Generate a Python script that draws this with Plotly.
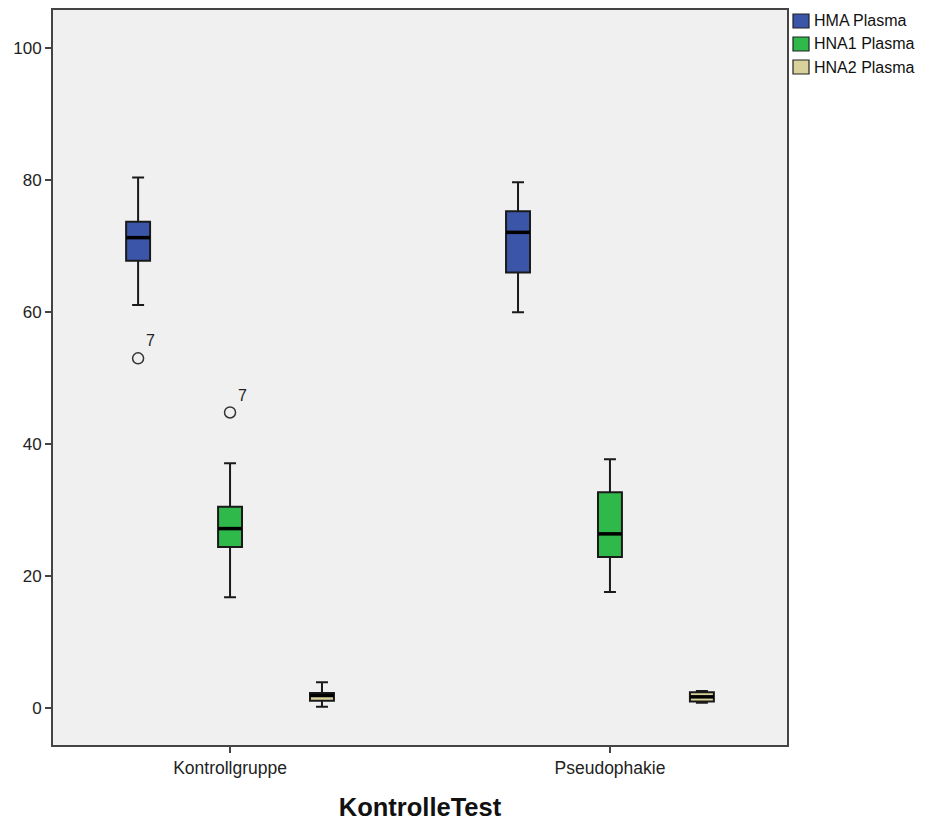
import plotly.graph_objects as go

categories = ["Kontrollgruppe", "Pseudophakie"]
series_names = ["HMA Plasma", "HNA1 Plasma", "HNA2 Plasma"]

# per series: values for [Kontrollgruppe, Pseudophakie]
hma_lower = [61.1, 60.0]
hma_q1 = [67.8, 66.0]
hma_median = [71.3, 72.1]
hma_q3 = [73.7, 75.3]
hma_upper = [80.4, 79.7]

hna1_lower = [16.8, 17.6]
hna1_q1 = [24.4, 22.9]
hna1_median = [27.2, 26.4]
hna1_q3 = [30.5, 32.7]
hna1_upper = [37.1, 37.7]

hna2_lower = [0.2, 0.8]
hna2_q1 = [1.1, 1.0]
hna2_median = [1.9, 1.7]
hna2_q3 = [2.3, 2.4]
hna2_upper = [3.9, 2.6]

# outliers: (series index, category index, value, case label)
outlier_series = [0, 1]
outlier_category = [0, 0]
outlier_values = [53.0, 44.8]
outlier_labels = ["7", "7"]

y_ticks = [0, 20, 40, 60, 80, 100]

colors = ["#3B56A9", "#2FB94B", "#D8D29A"]
offsets = [-0.242, 0.0, 0.242]
box_width = 0.063
FONT = "Liberation Sans, Arial, sans-serif"

W, H = 925, 821
ML, MR, MT, MB = 53, 138, 10, 76
PW, PH = W - ML - MR, H - MT - MB

stats = [
    (hma_lower, hma_q1, hma_median, hma_q3, hma_upper),
    (hna1_lower, hna1_q1, hna1_median, hna1_q3, hna1_upper),
    (hna2_lower, hna2_q1, hna2_median, hna2_q3, hna2_upper),
]

fig = go.Figure()
for i, (lo, q1, med, q3, up) in enumerate(stats):
    xs = [c + offsets[i] for c in range(len(categories))]
    fig.add_trace(go.Box(
        name=series_names[i],
        x=xs, q1=q1, median=med, q3=q3, lowerfence=lo, upperfence=up,
        width=box_width, whiskerwidth=0.5,
        fillcolor=colors[i],
        line=dict(color="#1a1a1a", width=2),
        boxpoints=False, hoverinfo="skip", showlegend=False,
    ))
    # thicker median line overlay
    mx, my = [], []
    for c, m in zip(xs, med):
        mx += [c - box_width / 2, c + box_width / 2, None]
        my += [m, m, None]
    fig.add_trace(go.Scatter(x=mx, y=my, mode="lines",
                             line=dict(color="black", width=3.5),
                             showlegend=False, hoverinfo="skip"))

ox = [c + offsets[s] for s, c in zip(outlier_series, outlier_category)]
fig.add_trace(go.Scatter(
    x=ox, y=outlier_values, mode="markers+text", text=outlier_labels,
    textposition="top right",
    textfont=dict(family=FONT, size=16, color="#222"),
    marker=dict(symbol="circle-open", size=11, color="#333", line=dict(width=1.5)),
    showlegend=False, hoverinfo="skip", cliponaxis=False,
))

# legend drawn in paper coordinates (outside the plot area)
def px_x(p):
    return (p - ML) / PW

def px_y(p):
    return (H - MB - p) / PH

shapes, annotations = [], []
for i, name in enumerate(series_names):
    cy = 21 + i * 23
    shapes.append(dict(type="rect", xref="paper", yref="paper",
                       x0=px_x(793), x1=px_x(809), y0=px_y(cy - 7), y1=px_y(cy + 7),
                       fillcolor=colors[i], line=dict(color="#222", width=1.2)))
    annotations.append(dict(xref="paper", yref="paper", x=px_x(812), y=px_y(cy),
                            xanchor="left", yanchor="middle", showarrow=False,
                            text=name, font=dict(family=FONT, size=16, color="#111")))

fig.update_layout(
    width=W, height=H,
    margin=dict(l=ML, r=MR, t=MT, b=MB, autoexpand=False),
    paper_bgcolor="white", plot_bgcolor="#F0F0F0",
    font=dict(family=FONT, size=16, color="#222"),
    showlegend=False,
    shapes=shapes, annotations=annotations,
)
fig.update_xaxes(
    range=[-0.466, 1.466], tickmode="array",
    tickvals=list(range(len(categories))), ticktext=categories,
    ticks="outside", ticklen=6, tickwidth=1.5, tickcolor="#444",
    showline=True, linecolor="#444", linewidth=2, mirror=True,
    showgrid=False, zeroline=False, automargin=False,
    tickfont=dict(family=FONT, size=17.5, color="#222"),
    title=dict(text="<b>KontrolleTest</b>", font=dict(family=FONT, size=25.5, color="#111"), standoff=21),
)
fig.update_yaxes(
    range=[-5.6, 105.8], tickmode="array", tickvals=y_ticks,
    ticks="outside", ticklen=6, tickwidth=1.5, tickcolor="#444",
    showline=True, linecolor="#444", linewidth=2, mirror=True,
    showgrid=False, zeroline=False, automargin=False,
    tickfont=dict(family=FONT, size=17, color="#222"),
)

fig.write_html("out.html")
